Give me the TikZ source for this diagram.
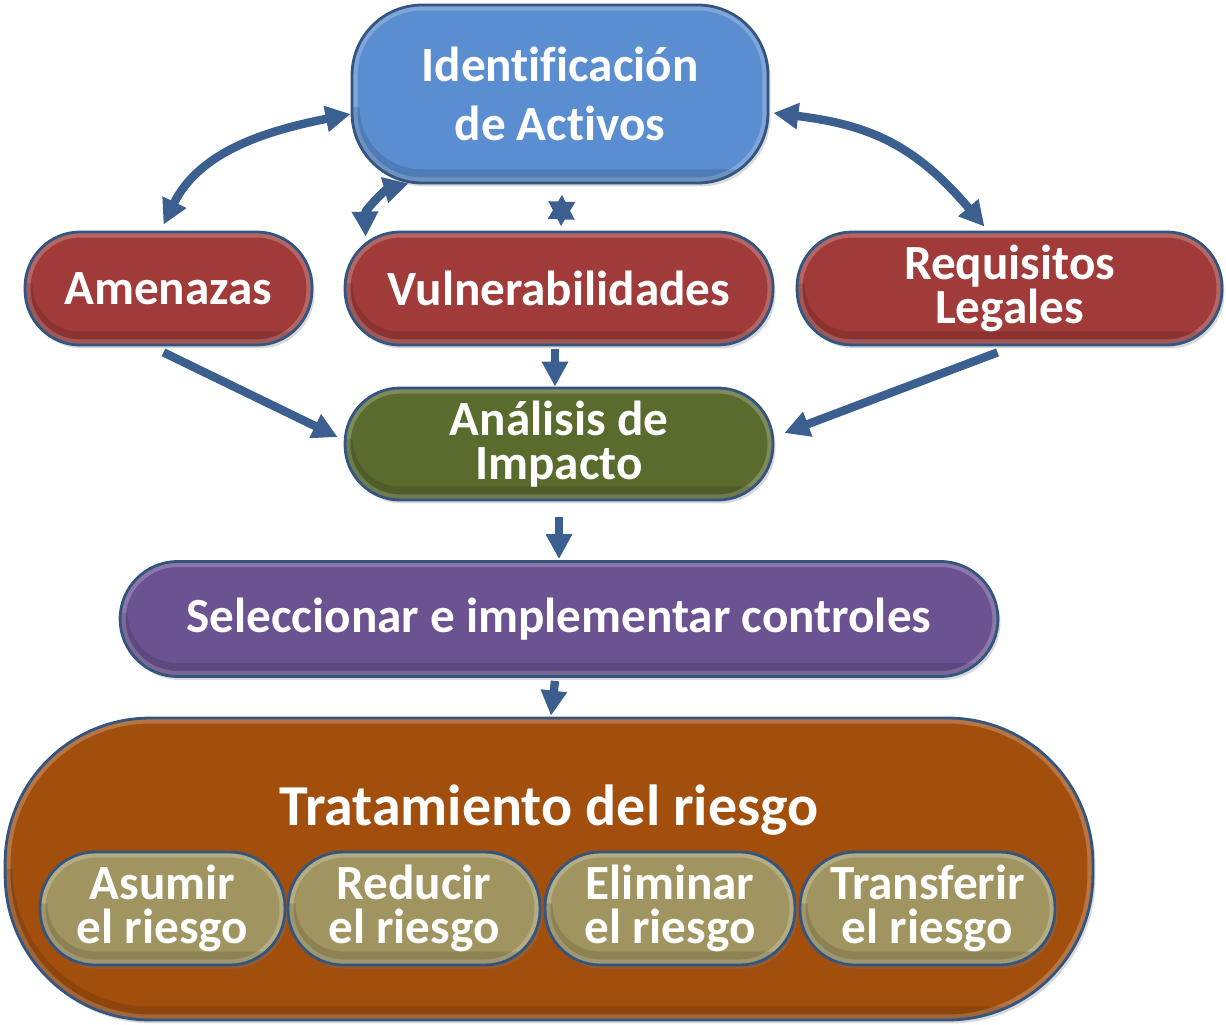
\documentclass[tikz,border=0pt]{standalone}
\usepackage{fontspec}
\setmainfont{Carlito}[Ligatures=NoCommon]
\usetikzlibrary{arrows.meta,calc,shadows}
\definecolor{cid}{HTML}{5A8ED0}
\definecolor{cred}{HTML}{A03B3A}
\definecolor{cgreen}{HTML}{5A6B2E}
\definecolor{cpurple}{HTML}{6B5391}
\definecolor{cbrown}{HTML}{A24F0E}
\definecolor{ckhaki}{HTML}{A09560}
\definecolor{carrow}{HTML}{3B6090}
\definecolor{cedge}{HTML}{34557F}
\begin{document}
\begin{tikzpicture}[x=0.02cm,y=-0.02cm,
  box/.style={rectangle, rounded corners=#1, draw=cedge, line width=1.6pt,
    text=white, align=center, inner sep=0pt,
    font=\bfseries\fontsize{28}{25}\selectfont,
    drop shadow={opacity=0.3, shadow xshift=0.05cm, shadow yshift=-0.07cm},
    path picture={
      \draw[white, opacity=0.22, line width=0.22cm, rounded corners=#1]
        (path picture bounding box.south west) rectangle (path picture bounding box.north east);
      \draw[black, opacity=0.12, line width=0.3cm, rounded corners=#1]
        ([yshift=0.12cm]path picture bounding box.south west) -- ([yshift=0.12cm]path picture bounding box.south west |- path picture bounding box.south east)
        -- ([yshift=0.12cm]path picture bounding box.south east);
    }},
  box/.default=1.1cm,
  conn/.style={draw=carrow, line width=4.8pt,
    -{Triangle[width=0.5cm,length=0.5cm]}},
  dconn/.style={draw=carrow, line width=4.8pt,
    {Triangle[width=0.5cm,length=0.5cm]}-{Triangle[width=0.5cm,length=0.5cm]}},
  title/.style={text=white, font=\bfseries\fontsize{33}{38}\selectfont, inner sep=0pt}
]
\useasboundingbox (0,0) rectangle (1226,1024);

% main nodes
\node[box=1.4cm, fill=cid, minimum width=8.32cm, minimum height=3.56cm,
      font=\bfseries\fontsize{28}{34}\selectfont] (id) at (560,94) {Identif\kern0pt icación\\de Act\kern0pt ivos};
\node[box, fill=cred, minimum width=5.74cm, minimum height=2.26cm] (am) at (168.5,288.5) {Amenazas};
\node[box, fill=cred, minimum width=8.56cm, minimum height=2.26cm] (vu) at (559,288.5) {Vulnerabilidades};
\node[box, fill=cred, minimum width=8.5cm, minimum height=2.26cm] (re) at (1009.5,288.5) {Requisitos\\Legales};
\node[box, fill=cgreen, minimum width=8.56cm, minimum height=2.24cm] (an) at (559,444) {Análisis de\\Impacto};
\node[box=1.15cm, fill=cpurple, minimum width=17.56cm, minimum height=2.3cm] (se) at (559,619) {Seleccionar e implementar controles};
\node[box=2.9cm, fill=cbrown, minimum width=21.76cm, minimum height=6.04cm] (tr) at (549,869) {};
\node[title] (tt) at (549,810) {Tratamiento del riesgo};

% sub nodes
\node[box, fill=ckhaki, minimum width=4.9cm, minimum height=2.26cm] (s1) at (162.5,908.5) {Asumir\\el riesgo};
\node[box, fill=ckhaki, minimum width=5.04cm, minimum height=2.26cm] (s2) at (414,908.5) {Reducir\\el riesgo};
\node[box, fill=ckhaki, minimum width=5.0cm, minimum height=2.26cm] (s3) at (670,908.5) {Eliminar\\el riesgo};
\node[box, fill=ckhaki, minimum width=5.1cm, minimum height=2.26cm] (s4) at (927.5,908.5) {Transferir\\el riesgo};

% curved double arrows
\draw[dconn] ($(id.west)+(0,20)$) .. controls (270,130) and (200,150) .. ($(am.north)+(-5,-6)$);
\draw[dconn] ($(id.east)+(4,19)$) .. controls (870,125) and (915,145) .. ($(re.north)+(-25,-4)$);
\draw[dconn] ($(id.south west)+(58,-1)$) .. controls (385,190) and (365,210) .. ($(vu.north west)+(22,6)$);
\draw[dconn] ($(id.south)+(2,10)$) -- ($(vu.north)+(2,-4)$);

% straight arrows
\draw[conn] ($(am.south)+(-5,6)$) -- ($(an.west)+(-6,-7)$);
\draw[conn] ($(re.south)+(-12,6)$) -- ($(an.east)+(10,-11)$);
\draw[conn] ($(vu.south)+(-4,3)$) -- ($(an.north)+(-4,0)$);
\draw[conn] ($(an.south)+(0,16)$) -- ($(se.north)+(0,-1)$);
\draw[conn] ($(se.south)+(-4,3)$) -- ($(tr.north)+(2,-1)$);
\end{tikzpicture}
\end{document}
